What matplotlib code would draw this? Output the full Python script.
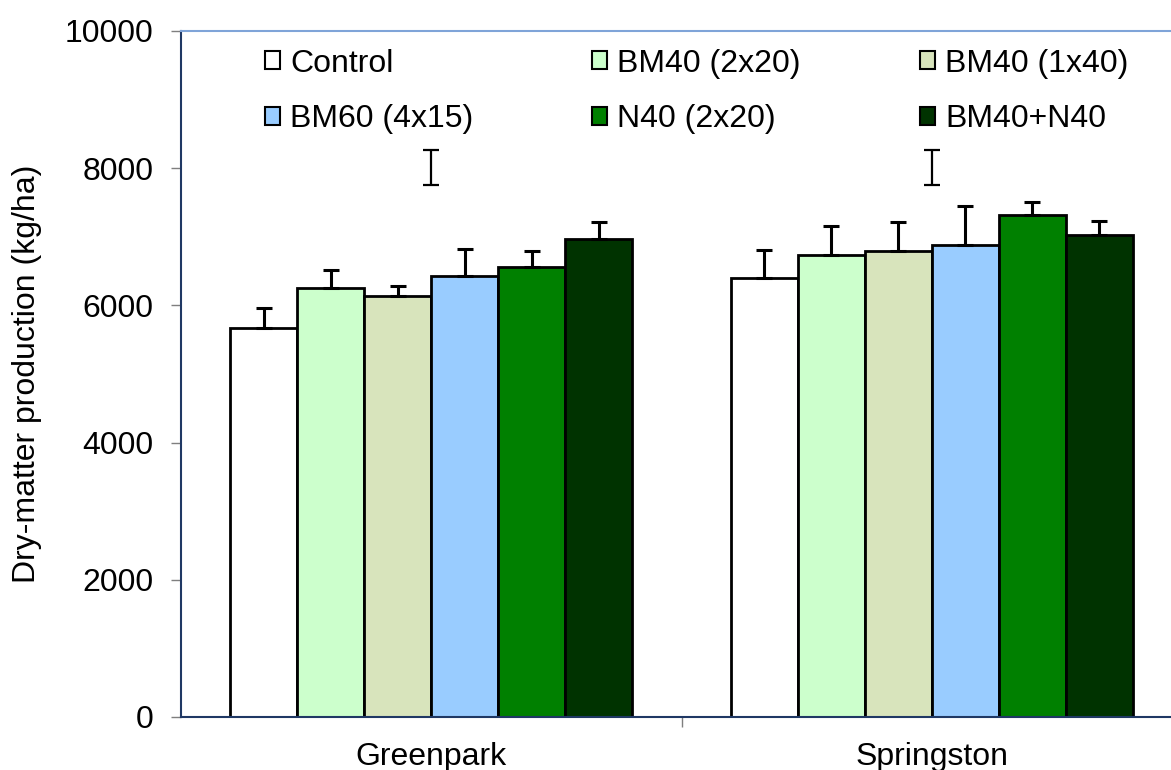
import matplotlib
matplotlib.use("Agg")

import matplotlib.pyplot as plt
import numpy as np
from matplotlib.patches import Patch

plt.rcParams["font.family"] = ["Liberation Sans", "DejaVu Sans"]

SITES = ["Greenpark", "Springston"]
TREATMENTS = ["Control", "BM40 (2x20)", "BM40 (1x40)", "BM60 (4x15)", "N40 (2x20)", "BM40+N40"]
COLORS = ["#FFFFFF", "#CCFFCC", "#D8E4BC", "#99CCFF", "#008000", "#003300"]

# dry matter (kg/ha), rows = treatments, cols = sites
DM = [
    [5675, 6395],
    [6249, 6739],
    [6133, 6788],
    [6429, 6880],
    [6555, 7318],
    [6972, 7026],
]
SE = [
    [282, 408],
    [267, 423],
    [150, 432],
    [398, 564],
    [242, 194],
    [248, 204],
]
# LSD bar per site: low, high
LSD_LOW = [7755, 7755]
LSD_HIGH = [8260, 8260]

W, H = 1171, 770
FS = 23
fig = plt.figure(figsize=(W / 100, H / 100), dpi=100)
ax = fig.add_axes([181 / W, 53 / H, 1001 / W, 686 / H])

x = np.arange(len(SITES))
bw = 0.134
n = len(TREATMENTS)
for i, (name, col) in enumerate(zip(TREATMENTS, COLORS)):
    pos = x + (i - (n - 1) / 2) * bw
    ax.bar(pos, DM[i], width=bw, color=col, edgecolor="black", linewidth=2, zorder=2)
    ax.errorbar(pos, DM[i], yerr=[np.zeros(len(SITES)), SE[i]], fmt="none",
                ecolor="black", elinewidth=2.2, capsize=6, capthick=2.2, zorder=3)

lsd_mid = [(a + b) / 2 for a, b in zip(LSD_LOW, LSD_HIGH)]
lsd_half = [(b - a) / 2 for a, b in zip(LSD_LOW, LSD_HIGH)]
ax.errorbar(x, lsd_mid, yerr=lsd_half, fmt="none", ecolor="black",
            elinewidth=1.6, capsize=6, capthick=1.6, zorder=3)

ax.set_xlim(-0.5, 1.5)
ax.set_ylim(0, 10000)
ax.set_yticks(np.arange(0, 10001, 2000))
ax.set_xticks(x)
ax.set_xticklabels(SITES)
ax.set_xticks([0.5], minor=True)
ax.tick_params(axis="x", which="major", length=0, pad=18, labelsize=FS)
ax.tick_params(axis="x", which="minor", length=7, width=1, color="#7F7F7F", direction="out")
ax.tick_params(axis="y", length=7, width=1, color="#7F7F7F", direction="out", pad=13, labelsize=FS)
ax.set_ylabel("Dry-matter production (kg/ha)", fontsize=FS, labelpad=16)

ax.spines["left"].set_color("#1F3864")
ax.spines["bottom"].set_color("#1F3864")
ax.spines["top"].set_color("#7FA4D8")
ax.spines["right"].set_visible(False)
for s in ("left", "bottom", "top"):
    ax.spines[s].set_linewidth(1.5)

handles = [Patch(facecolor=c, edgecolor="black", linewidth=1.5) for c in COLORS]
legend_cols = [(0, 3), (1, 4), (2, 5)]
legend_x = [247, 574, 902]
for k, (a, b) in enumerate(legend_cols):
    leg = ax.legend([handles[a], handles[b]], [TREATMENTS[a], TREATMENTS[b]],
                    loc="upper left", bbox_to_anchor=((legend_x[k] - 181) / 1001, 1.0),
                    frameon=False, fontsize=FS, handlelength=0.47, handleheight=0.47,
                    handletextpad=0.34, labelspacing=0.8, borderaxespad=0.55, borderpad=0)
    if k < 2:
        ax.add_artist(leg)

fig.savefig("out.png", dpi=100)
